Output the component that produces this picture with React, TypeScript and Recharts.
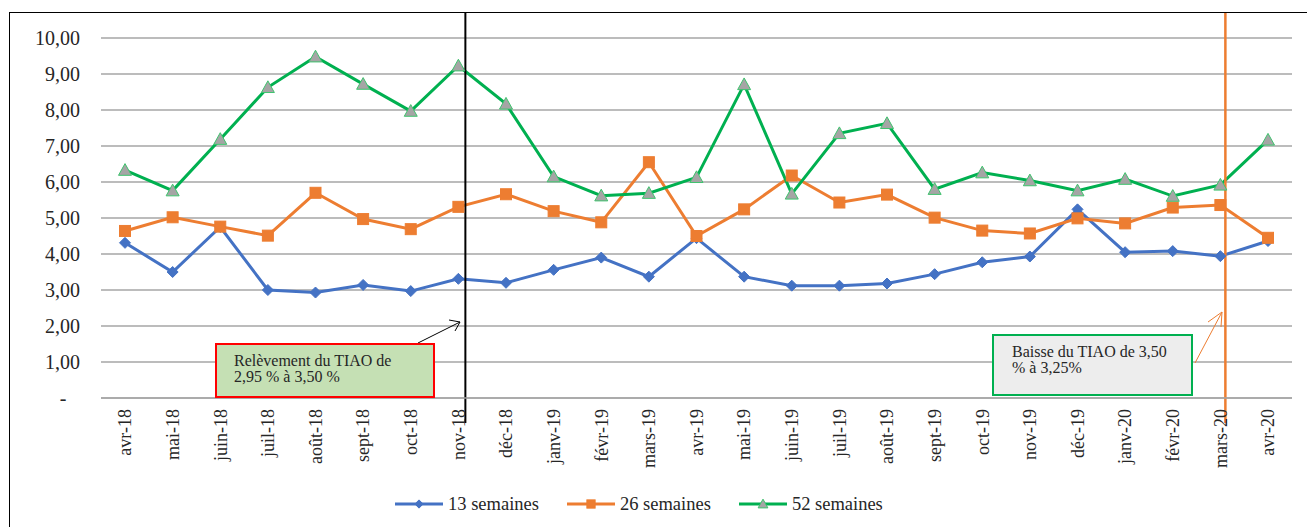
import { CartesianGrid, Legend, Line, LineChart, ReferenceLine, XAxis, YAxis } from "recharts";

document.body.style.margin = "0";
document.body.style.overflow = "hidden";

const MONTHS = [
  "avr-18", "mai-18", "juin-18", "juil-18", "août-18", "sept-18", "oct-18", "nov-18", "déc-18",
  "janv-19", "févr-19", "mars-19", "avr-19", "mai-19", "juin-19", "juil-19", "août-19", "sept-19",
  "oct-19", "nov-19", "déc-19", "janv-20", "févr-20", "mars-20", "avr-20",
];
const S13 = [4.31, 3.5, 4.75, 3.0, 2.93, 3.14, 2.97, 3.31, 3.2, 3.56, 3.9, 3.37, 4.44, 3.37, 3.12, 3.12, 3.18, 3.44, 3.77, 3.93, 5.24, 4.05, 4.08, 3.94, 4.36];
const S26 = [4.64, 5.02, 4.76, 4.51, 5.7, 4.97, 4.69, 5.31, 5.66, 5.19, 4.88, 6.55, 4.5, 5.24, 6.18, 5.43, 5.65, 5.01, 4.65, 4.57, 4.99, 4.85, 5.29, 5.36, 4.45];
const S52 = [6.33, 5.76, 7.19, 8.63, 9.48, 8.72, 7.97, 9.23, 8.17, 6.15, 5.62, 5.69, 6.13, 8.71, 5.67, 7.35, 7.63, 5.8, 6.26, 6.04, 5.76, 6.08, 5.61, 5.92, 7.17];
const Y_TICKS = [0, 1, 2, 3, 4, 5, 6, 7, 8, 9, 10];

const SERIES = [
  { key: "s13", name: "13 semaines", color: "#4472C4", marker: "diamond" },
  { key: "s26", name: "26 semaines", color: "#ED7D31", marker: "square" },
  { key: "s52", name: "52 semaines", color: "#00B050", marker: "triangle" },
];

const data = MONTHS.map((m, i) => ({ m, s13: S13[i], s26: S26[i], s52: S52[i] }));

const FONT = "Liberation Serif, Times New Roman, Times, DejaVu Serif, serif";

function Marker({ kind, cx, cy, s = 1 }: { kind: string; cx: number; cy: number; s?: number }) {
  if (kind === "diamond") {
    const r = 5.5 * s;
    return <polygon points={`${cx},${cy - r} ${cx + r},${cy} ${cx},${cy + r} ${cx - r},${cy}`} fill="#4472C4" stroke="#4472C4" strokeWidth={1} />;
  }
  if (kind === "square") {
    const r = 5.5 * s;
    return <rect x={cx - r} y={cy - r} width={2 * r} height={2 * r} fill="#ED7D31" stroke="#ED7D31" strokeWidth={1} />;
  }
  const r = 6.5 * s;
  return (
    <polygon
      points={`${cx},${cy - r} ${cx + r},${cy + r * 0.8} ${cx - r},${cy + r * 0.8}`}
      fill="#A5A5A5"
      stroke="#3FC36E"
      strokeWidth={1}
    />
  );
}

function dotFor(kind: string) {
  return (p: { cx?: number; cy?: number; index?: number }) => (
    <Marker key={`${kind}-${p.index}`} kind={kind} cx={p.cx ?? 0} cy={p.cy ?? 0} />
  );
}

function YTick(props: { x?: number; y?: number; payload?: { value?: number } }) {
  const { x = 0, y = 0, payload } = props;
  const v = payload?.value ?? 0;
  if (v === 0) {
    return (
      <text x={x - 17} y={y} dy="0.35em" textAnchor="middle" fill="#262626" style={{ fontFamily: FONT }} fontSize={20}>
        -
      </text>
    );
  }
  return (
    <text x={x} y={y} dy="0.35em" textAnchor="end" fill="#262626" style={{ fontFamily: FONT }} fontSize={20}>
      {v.toFixed(2).replace(".", ",")}
    </text>
  );
}

function XTick(props: { x?: number; y?: number; payload?: { value?: string } }) {
  const { x = 0, y = 0, payload } = props;
  return (
    <text
      transform={`translate(${x},${y}) rotate(-90)`}
      textAnchor="end"
      dy="0.35em"
      fill="#262626"
      style={{ fontFamily: FONT }}
      fontSize={18}
    >
      {payload?.value}
    </text>
  );
}

function LegendContent() {
  return (
    <div style={{ height: 24, display: "flex", alignItems: "center", paddingLeft: 395, fontFamily: FONT, fontSize: 18.5, color: "#262626" }}>
      {SERIES.map((s) => (
        <div key={s.key} style={{ display: "flex", alignItems: "center", marginRight: 28 }}>
          <svg width={48} height={16} style={{ marginRight: 5 }}>
            <line x1={0} y1={8} x2={48} y2={8} stroke={s.color} strokeWidth={3} />
            <Marker kind={s.marker} cx={24} cy={8} s={0.75} />
          </svg>
          <span>{s.name}</span>
        </div>
      ))}
    </div>
  );
}

function vLine(color: string, dx: number, width: number) {
  return (p: { x1?: number; y1?: number; x2?: number; y2?: number }) => {
    const x = (p.x1 ?? 0) + dx;
    const top = Math.min(p.y1 ?? 0, p.y2 ?? 0) - 25;
    const bottom = Math.max(p.y1 ?? 0, p.y2 ?? 0) + 25;
    return <line x1={x} x2={x} y1={top} y2={bottom} stroke={color} strokeWidth={width} />;
  };
}

export default function App() {
  return (
    <div style={{ position: "relative", width: 1307, height: 527, background: "#fff", overflow: "hidden", fontFamily: FONT }}>
      <div
        style={{
          position: "absolute",
          left: 9,
          top: 12,
          width: 1400,
          height: 600,
          borderLeft: "1.5px solid #000",
          borderTop: "1.5px solid #000",
        }}
      />
      <LineChart width={1307} height={527} data={data} margin={{ top: 38, right: 15, left: 0, bottom: 11 }}>
        <CartesianGrid horizontal vertical={false} stroke="#A6A6A6" strokeWidth={1.3} />
        <XAxis
          dataKey="m"
          interval={0}
          height={94}
          padding={{ left: 24, right: 24 }}
          tickSize={0}
          tickMargin={11}
          tickLine={false}
          axisLine={{ stroke: "#A6A6A6", strokeWidth: 1.3 }}
          tick={<XTick />}
        />
        <YAxis
          domain={[0, 10]}
          ticks={Y_TICKS}
          interval={0}
          width={101}
          tickSize={0}
          tickMargin={21}
          axisLine={false}
          tickLine={false}
          tick={<YTick />}
        />
        <Legend verticalAlign="bottom" content={<LegendContent />} wrapperStyle={{ left: 0, width: 1307 }} />
        {SERIES.map((s) => (
          <Line
            key={s.key}
            dataKey={s.key}
            name={s.name}
            stroke={s.color}
            strokeWidth={3}
            dot={dotFor(s.marker)}
            activeDot={false}
            isAnimationActive={false}
          />
        ))}
        <ReferenceLine x="nov-18" shape={vLine("#000", 7, 2)} />
        <ReferenceLine x="mars-20" shape={vLine("#ED7D31", 5, 2.5)} />
      </LineChart>
      <svg width={1307} height={527} style={{ position: "absolute", left: 0, top: 0, pointerEvents: "none" }}>
        <g stroke="#000" strokeWidth={1} fill="none">
          <line x1={418} y1={343} x2={460} y2={322} />
          <polyline points="449,320 460,322 455,331" />
        </g>
        <g stroke="#ED7D31" strokeWidth={1} fill="none">
          <line x1={1195} y1={363} x2={1222} y2={312} />
          <polyline points="1208,322 1222,312 1221,327" />
        </g>
      </svg>
      <div
        style={{
          position: "absolute",
          left: 215,
          top: 343,
          width: 220,
          height: 55,
          boxSizing: "border-box",
          border: "2px solid #FF0000",
          background: "#C5E0B4",
          padding: "8px 0 0 17px",
          fontSize: 16,
          lineHeight: "15.5px",
          color: "#262626",
        }}
      >
        Relèvement du TIAO de
        <br />
        2,95 % à 3,50 %
      </div>
      <div
        style={{
          position: "absolute",
          left: 992,
          top: 334,
          width: 201,
          height: 62,
          boxSizing: "border-box",
          border: "2px solid #00B050",
          background: "#EDEDED",
          padding: "8px 0 0 18px",
          fontSize: 16,
          lineHeight: "15.5px",
          color: "#262626",
        }}
      >
        Baisse du TIAO de 3,50
        <br />
        % à 3,25%
      </div>
    </div>
  );
}
